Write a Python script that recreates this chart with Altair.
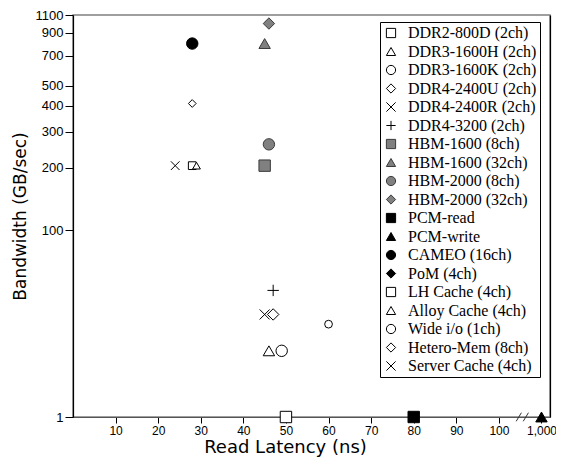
import altair as alt
import pandas as pd

# ---- legend entries (in legend order) ----
series = ["DDR2-800D (2ch)", "DDR3-1600H (2ch)", "DDR3-1600K (2ch)", "DDR4-2400U (2ch)",
          "DDR4-2400R (2ch)", "DDR4-3200 (2ch)", "HBM-1600 (8ch)", "HBM-1600 (32ch)",
          "HBM-2000 (8ch)", "HBM-2000 (32ch)", "PCM-read", "PCM-write", "CAMEO (16ch)",
          "PoM (4ch)", "LH Cache (4ch)", "Alloy Cache (4ch)", "Wide i/o (1ch)",
          "Hetero-Mem (8ch)", "Server Cache (4ch)"]

X_PATH = "M-1,-1L1,1M-1,1L1,-1"
PLUS_PATH = "M-1,0L1,0M0,-1L0,1"
shapes = ["square", "triangle-up", "circle", "diamond", X_PATH, PLUS_PATH,
          "square", "triangle-up", "circle", "diamond",
          "square", "triangle-up", "circle", "diamond",
          "square", "triangle-up", "circle", "diamond", X_PATH]
fills = ["white"] * 6 + ["#808080"] * 4 + ["black"] * 4 + ["white"] * 5
strokes = ["black"] * 6 + ["#3a3a3a"] * 4 + ["black"] * 4 + ["black"] * 5
sizes = [130, 130, 130, 130, 100, 130] + [130] * 8 + [60, 60, 60, 60, 75]

# ---- plotted points ----
point_names = ["DDR2-800D (2ch)", "DDR3-1600H (2ch)", "DDR3-1600K (2ch)", "DDR4-2400U (2ch)",
               "DDR4-2400R (2ch)", "DDR4-3200 (2ch)", "HBM-1600 (8ch)", "HBM-1600 (32ch)",
               "HBM-2000 (8ch)", "HBM-2000 (32ch)", "PCM-read", "PCM-write", "CAMEO (16ch)",
               "LH Cache (4ch)", "Alloy Cache (4ch)", "Wide i/o (1ch)", "Hetero-Mem (8ch)",
               "Server Cache (4ch)"]
latency_ns = [50, 46, 49, 47, 45, 47, 45, 45, 46, 46, 80, 1000, 28, 28, 29, 60, 28, 24]
bandwidth_gbs = [1, 26, 26, 39, 39, 51, 205, 800, 260, 1000, 1, 1, 800, 205, 205, 35, 410, 205]

# axis ticks
x_ticks = [10, 20, 30, 40, 50, 60, 70, 80, 90, 100, 110]   # 110 stands for the broken "1,000"
Y_FLOOR = 12.43                                            # position of the "1" label (axis break)
y_ticks = [Y_FLOOR, 100, 200, 300, 400, 500, 700, 900, 1100]
BREAK_AT = [105.5]

size_of = dict(zip(series, sizes))
df = pd.DataFrame({"name": point_names, "lat": latency_ns, "bw": bandwidth_gbs})
df["msize"] = df["name"].map(size_of)
brk = pd.DataFrame({"lat": BREAK_AT, "bw": [1]})

xscale = alt.Scale(domain=[0, 112], nice=False, zero=False)
yscale = alt.Scale(type="log", domain=[Y_FLOOR, 1100], nice=False)

legend = alt.Legend(
    title=None, orient="none", legendX=307, legendY=7, padding=3,
    strokeColor="black", fillColor="white",
    labelFont="Liberation Serif", labelFontSize=16, labelColor="black",
    labelOffset=9, rowPadding=2.5, symbolSize=85, symbolStrokeWidth=1,
    labelLimit=300,
)

points = alt.Chart(df).transform_calculate(
    lat_pos="datum.lat > 100 ? 110 : datum.lat",
    bw_pos=f"max(datum.bw, {Y_FLOOR})",
).mark_point(filled=True, opacity=1, strokeWidth=1).encode(
    x=alt.X("lat_pos:Q", scale=xscale,
            axis=alt.Axis(values=x_ticks, title="Read Latency (ns)",
                          labelExpr="datum.value == 110 ? '1,000' : format(datum.value, 'd')",
                          domainColor="#555555", tickSize=6, labelPadding=2, titlePadding=2.5,
                          labelFontSize=12, titleFontSize=18, titleX=212)),
    y=alt.Y("bw_pos:Q", scale=yscale,
            axis=alt.Axis(values=y_ticks, title="Bandwidth (GB/sec)",
                          labelExpr="datum.value < 50 ? '1' : format(datum.value, 'd')",
                          domainColor="black", tickSize=8, labelPadding=2, titlePadding=6,
                          labelFontSize=13, titleFontSize=17)),
    shape=alt.Shape("name:N", scale=alt.Scale(domain=series, range=shapes), legend=legend),
    fill=alt.Fill("name:N", scale=alt.Scale(domain=series, range=fills), legend=legend),
    stroke=alt.Stroke("name:N", scale=alt.Scale(domain=series, range=strokes), legend=legend),
    size=alt.Size("msize:Q", scale=None),
)

breakmark = alt.Chart(brk).transform_calculate(
    lat_pos="datum.lat",
    bw_pos=f"max(datum.bw, {Y_FLOOR})",
).mark_point(shape="M-1,0.7L-0.15,-0.7M0.15,0.7L1,-0.7", size=150, stroke="#333333",
             strokeWidth=1, fill="white", opacity=1).encode(
    x=alt.X("lat_pos:Q", scale=xscale),
    y=alt.Y("bw_pos:Q", scale=yscale,
            axis=alt.Axis(orient="right", labels=False, ticks=False, title=None,
                          domainColor="black")),
)

chart = alt.layer(points, breakmark).resolve_axis(y="independent").properties(
    width=477, height=402,
    autosize=alt.AutoSizeParams(type="none"),
    padding={"left": 65, "top": 7, "right": 6, "bottom": 41},
).configure_view(
    stroke="#808080", strokeWidth=1.5
).configure_axis(
    grid=False, labelFont="Liberation Sans", labelColor="black",
    titleFont="DejaVu Sans", titleFontWeight="normal", titleColor="black",
    tickColor="black", domainWidth=1.2,
)

chart.save("out.html", embed_options={"renderer": "svg", "actions": False})
